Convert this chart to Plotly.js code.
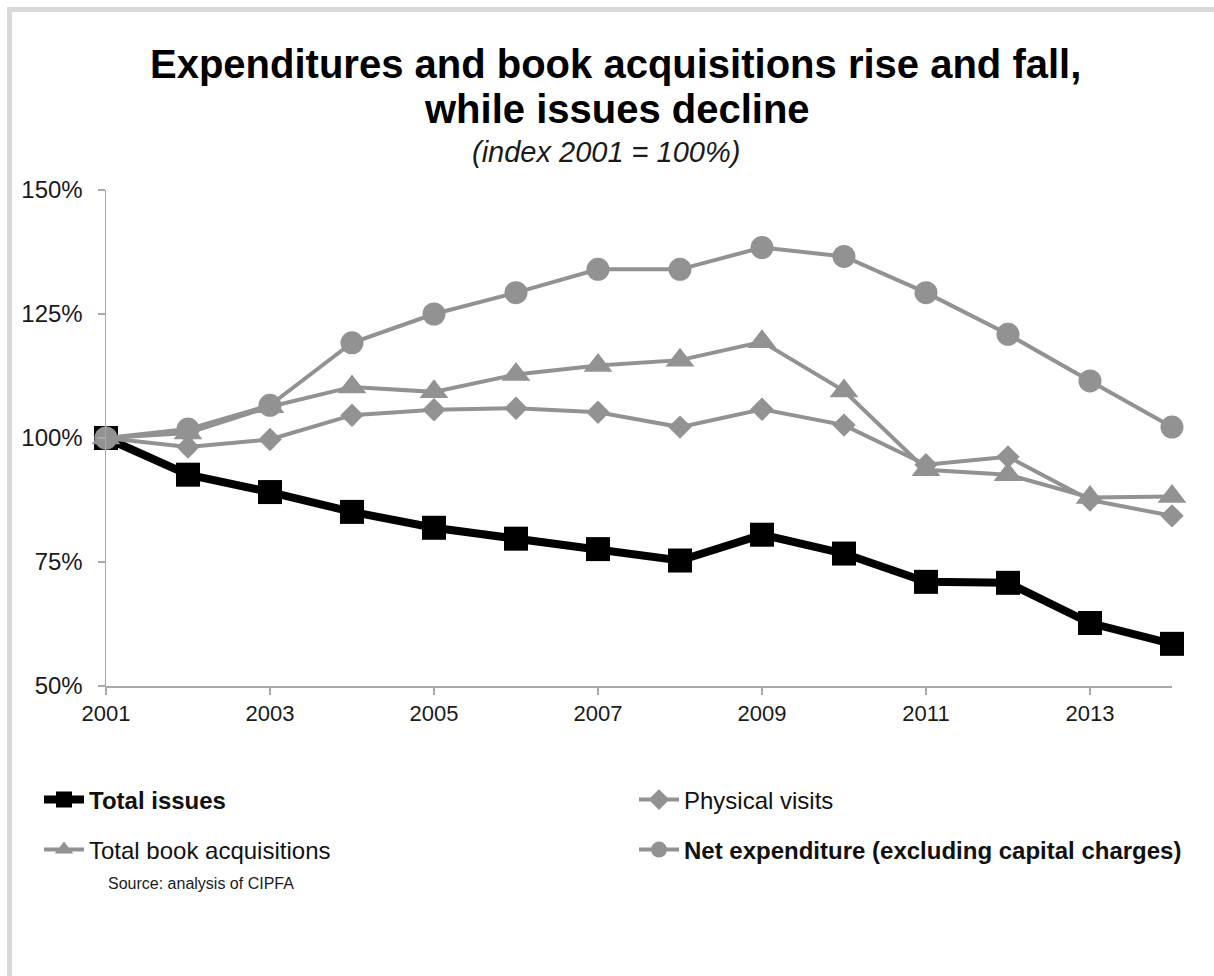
<!DOCTYPE html>
<html>
<head>
<meta charset="utf-8">
<script src="https://cdn.plot.ly/plotly-3.0.1.min.js"></script>
<style>
  html, body { margin: 0; padding: 0; background: #ffffff; }
  #wrap { position: relative; width: 1214px; height: 976px; background: #ffffff; overflow: hidden; }
  #frame { position: absolute; left: 7px; top: 7px; width: 1300px; height: 1100px;
           border-top: 5px solid #d9d9d9; border-left: 5px solid #d9d9d9; }
  #chart { position: absolute; left: 0; top: 0; width: 1214px; height: 976px; }
</style>
</head>
<body>
<div id="wrap">
  <div id="frame"></div>
  <div id="chart"></div>
</div>
<script>
// ---- data (index, 2001 = 100%) ----
const years = [2001, 2002, 2003, 2004, 2005, 2006, 2007, 2008, 2009, 2010, 2011, 2012, 2013, 2014];
const totalIssues      = [100, 92.6, 89.1, 85.1, 81.9, 79.7, 77.6, 75.3, 80.5, 76.7, 71.0, 70.8, 62.7, 58.5];
const physicalVisits   = [100, 98.2, 99.7, 104.6, 105.7, 106.0, 105.2, 102.2, 105.8, 102.6, 94.6, 96.2, 87.5, 84.3];
const bookAcquisitions = [100, 101.0, 106.3, 110.3, 109.3, 112.8, 114.6, 115.7, 119.4, 109.5, 93.6, 92.6, 88.0, 88.2];
const netExpenditure   = [100, 101.8, 106.6, 119.2, 125.0, 129.3, 134.0, 134.0, 138.4, 136.6, 129.3, 120.9, 111.5, 102.2];

const seriesNames = [
  "<b>Total issues</b>",
  "Physical visits",
  "Total book acquisitions",
  "<b>Net expenditure (excluding capital charges)</b>"
];
const xTickVals = [2001, 2003, 2005, 2007, 2009, 2011, 2013];
const yTickVals = [50, 75, 100, 125, 150];
const yTickText = ["50%", "75%", "100%", "125%", "150%"];

const titleLine1 = "<b>Expenditures and book acquisitions rise and fall,</b>";
const titleLine2 = "<b>while issues decline</b>";
const subTitle   = "<i>(index 2001 = 100%)</i>";
const sourceText = "Source: analysis of CIPFA";

// ---- styling ----
const FONT = "Liberation Sans, Arial, Helvetica, sans-serif";
const GREY = "#929292";
const AXIS = "#a9a9a9";

const W = 1214, H = 976;
const M = { l: 106, r: 42, t: 190, b: 290 };
const plotW = W - M.l - M.r, plotH = H - M.t - M.b;
const px2paperX = px => (px - M.l) / plotW;
const px2paperY = py => (H - M.b - py) / plotH;

const traces = [
  {
    x: years, y: totalIssues, name: seriesNames[0], type: "scatter", mode: "lines+markers",
    line: { color: "#000000", width: 8 },
    marker: { symbol: "square", size: 24, color: "#000000" },
    cliponaxis: false, legend: "legend"
  },
  {
    x: years, y: physicalVisits, name: seriesNames[1], type: "scatter", mode: "lines+markers",
    line: { color: GREY, width: 4 },
    marker: { symbol: "diamond", size: 18, color: GREY },
    cliponaxis: false, legend: "legend2"
  },
  {
    x: years, y: bookAcquisitions, name: seriesNames[2], type: "scatter", mode: "lines+markers",
    line: { color: GREY, width: 4 },
    marker: { symbol: "triangle-up", size: 25, color: GREY },
    cliponaxis: false, legend: "legend3"
  },
  {
    x: years, y: netExpenditure, name: seriesNames[3], type: "scatter", mode: "lines+markers",
    line: { color: GREY, width: 4 },
    marker: { symbol: "circle", size: 23, color: GREY },
    cliponaxis: false, legend: "legend4"
  }
];

const legendCommon = {
  orientation: "h",
  xref: "container", yref: "container",
  xanchor: "left", yanchor: "middle",
  bgcolor: "rgba(0,0,0,0)",
  font: { family: FONT, size: 24, color: "#111111" },
  itemwidth: 40
};
const legAt = (px, py) => Object.assign({}, legendCommon, { x: px / W, y: 1 - py / H });

const layout = {
  width: W, height: H,
  margin: M,
  paper_bgcolor: "rgba(0,0,0,0)",
  plot_bgcolor: "rgba(0,0,0,0)",
  font: { family: FONT, color: "#1a1a1a" },
  showlegend: true,
  xaxis: {
    range: [2001, 2014],
    tickvals: xTickVals,
    showgrid: false, zeroline: false,
    showline: true, linecolor: AXIS, linewidth: 1.5,
    ticks: "outside", ticklen: 7, tickcolor: AXIS, tickwidth: 1.5,
    tickfont: { family: FONT, size: 22, color: "#1a1a1a" },
    fixedrange: true
  },
  yaxis: {
    range: [50, 150],
    tickvals: yTickVals,
    ticktext: yTickText,
    showgrid: false, zeroline: false,
    showline: true, linecolor: AXIS, linewidth: 1.5,
    ticks: "outside", ticklen: 7, tickcolor: AXIS, tickwidth: 1.5,
    ticklabelstandoff: 10,
    tickfont: { family: FONT, size: 24, color: "#1a1a1a" },
    fixedrange: true
  },
  legend:  legAt(39, 800),
  legend2: legAt(634, 800),
  legend3: legAt(39, 850),
  legend4: legAt(634, 850),
  annotations: [
    { text: titleLine1, xref: "paper", yref: "paper", x: px2paperX(615), y: px2paperY(64),
      xanchor: "center", yanchor: "middle", showarrow: false,
      font: { family: FONT, size: 40, color: "#000000" } },
    { text: titleLine2, xref: "paper", yref: "paper", x: px2paperX(617), y: px2paperY(109),
      xanchor: "center", yanchor: "middle", showarrow: false,
      font: { family: FONT, size: 40, color: "#000000" } },
    { text: subTitle, xref: "paper", yref: "paper", x: px2paperX(606), y: px2paperY(152),
      xanchor: "center", yanchor: "middle", showarrow: false,
      font: { family: FONT, size: 29, color: "#1a1a1a" } },
    { text: sourceText, xref: "paper", yref: "paper", x: px2paperX(106), y: px2paperY(883),
      xanchor: "left", yanchor: "middle", showarrow: false,
      font: { family: FONT, size: 16, color: "#1a1a1a" } }
  ]
};

Plotly.newPlot("chart", traces, layout, { displayModeBar: false, staticPlot: true });
</script>
</body>
</html>
